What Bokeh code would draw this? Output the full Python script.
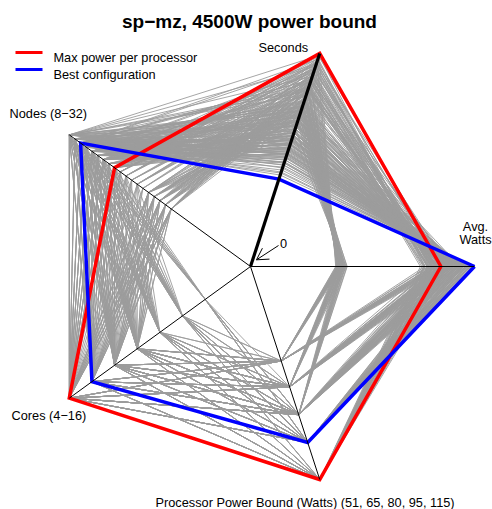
import math
from bokeh.plotting import figure
from bokeh.models import Range1d, Label
from bokeh.embed import file_html
from bokeh.resources import INLINE

# ---------------- data ----------------
# axes order of the radar: Avg. Watts (0 deg), Seconds (72), Nodes (144), Cores (216), Power bound (288)
axis_labels = ["Avg.\nWatts", "Seconds", "Nodes (8\u221232)", "Cores (4\u221216)",
               "Processor Power Bound (Watts) (51, 65, 80, 95, 115)"]
power_levels = [51, 65, 80, 95, 115]

nodes = [
    24, 24, 24, 22, 22, 22, 22, 20, 20, 20, 24, 22, 20, 20, 24, 22, 24, 20, 18, 18,
    30, 30, 30, 30, 28, 28, 28, 28, 28, 26, 26, 26, 26, 26, 24, 24, 24, 24, 24, 30,
    28, 26, 24, 30, 28, 26, 24, 30, 26, 24,
    32, 32, 32, 32, 32, 32, 32, 30, 30, 30, 30, 30, 30, 30, 28, 28, 28, 28, 28, 28, 28,
    26, 26, 26, 26, 26, 26, 26, 24, 24, 16, 16, 16, 16, 14, 14, 14, 18,
    32, 32, 32, 32, 32, 32, 32, 30, 30, 30, 30, 30, 30, 28, 28, 28, 28, 28, 28, 26,
    18, 18, 18, 18, 16, 16, 16, 16, 14, 14, 14, 14,
    32, 32, 32, 32, 32, 30, 30, 30, 30, 30, 18, 18, 18, 18, 16, 16, 16, 16, 14, 14, 14, 14,
    29, 29, 29, 29, 27, 27, 27, 27, 25, 25, 25, 25, 25, 27, 29, 29,
    23, 23, 23, 23, 21, 21, 21, 21, 19, 19, 19, 23,
    31, 31, 31, 31, 31, 29, 29, 29, 29, 29, 27, 27, 27, 27, 25, 25, 25, 15, 15, 15, 17, 17, 17, 17,
    31, 31, 31, 31, 31, 29, 29, 29, 29, 27, 27, 27, 17, 17, 17, 17, 15, 15, 15, 15,
    31, 31, 31, 31, 29, 29, 29, 17, 17, 17, 15, 15, 15, 15, 32, 30,
]
cores = [
    14, 12, 10, 16, 14, 12, 10, 16, 14, 12, 8, 8, 10, 8, 16, 6, 6, 6, 16, 12,
    16, 12, 10, 8, 16, 14, 12, 10, 8, 16, 14, 12, 10, 8, 16, 14, 12, 10, 8, 6,
    6, 6, 6, 4, 4, 4, 4, 14, 16, 16,
    16, 14, 12, 10, 8, 6, 4, 16, 14, 12, 10, 8, 6, 4, 16, 14, 12, 10, 8, 6, 4,
    16, 14, 12, 10, 8, 6, 4, 16, 12, 16, 14, 12, 10, 16, 14, 12, 16,
    16, 14, 12, 10, 8, 6, 4, 16, 14, 12, 10, 8, 6, 16, 14, 12, 10, 8, 6, 16,
    16, 14, 12, 10, 16, 14, 12, 10, 16, 14, 12, 10,
    16, 14, 12, 10, 8, 16, 14, 12, 10, 8, 16, 14, 12, 10, 16, 14, 12, 10, 16, 14, 12, 10,
    16, 12, 10, 8, 16, 14, 12, 10, 16, 14, 12, 10, 8, 6, 6, 14,
    16, 14, 12, 10, 16, 14, 12, 10, 16, 14, 12, 8,
    16, 14, 12, 10, 8, 16, 14, 12, 10, 8, 16, 14, 12, 10, 16, 14, 12, 16, 14, 12, 16, 14, 12, 10,
    16, 14, 12, 10, 8, 16, 14, 12, 10, 16, 14, 12, 16, 14, 12, 10, 16, 14, 12, 10,
    16, 14, 12, 10, 16, 14, 12, 16, 14, 12, 16, 14, 12, 10, 6, 6,
]
power = ([115] * 20 + [95] * 30 + [80] * 38 + [65] * 32 + [51] * 22
         + [95] * 16 + [115] * 12 + [80] * 24 + [65] * 20 + [51] * 16)
seconds = [
    205, 198, 201, 196, 189, 193, 184, 181, 178, 186, 207, 199, 174, 191, 209, 202, 195, 188, 176, 183,
    94, 101, 112, 126, 99, 104, 110, 121, 133, 108, 115, 122, 131, 145, 118, 124, 133, 142, 157, 140,
    149, 160, 171, 165, 176, 185, 194, 91, 112, 121,
    98, 103, 111, 122, 137, 155, 178, 104, 109, 117, 129, 144, 162, 186, 111, 117, 125, 137, 152, 170, 193,
    119, 126, 134, 146, 161, 179, 201, 128, 144, 152, 158, 166, 177, 169, 175, 183, 146,
    112, 118, 127, 139, 155, 175, 199, 120, 126, 135, 148, 165, 186, 128, 135, 145, 158, 176, 196, 137,
    131, 138, 146, 158, 143, 150, 160, 172, 157, 165, 176, 189,
    142, 149, 158, 171, 189, 151, 159, 169, 183, 202, 155, 162, 171, 183, 168, 176, 186, 199, 183, 192, 203, 210,
    96, 106, 117, 130, 103, 109, 116, 126, 113, 119, 127, 137, 151, 155, 146, 93,
    203, 197, 192, 187, 190, 185, 180, 177, 179, 184, 190, 204,
    101, 106, 114, 125, 141, 108, 113, 121, 133, 148, 115, 122, 130, 141, 123, 130, 139, 160, 166, 174, 149, 154, 162, 171,
    116, 122, 131, 143, 160, 124, 130, 140, 153, 133, 140, 150, 137, 144, 153, 165, 150, 157, 168, 180,
    146, 154, 163, 177, 156, 164, 175, 161, 169, 178, 175, 184, 195, 205, 210, 206,
]
watts = [
    3760, 3690, 3580, 3650, 3540, 3480, 3390, 3560, 3470, 3420, 3520, 3600, 3720, 3610, 3870, 3940, 3900, 3850, 3700, 3630,
    4430, 4390, 4350, 4300, 4410, 4380, 4320, 4260, 4210, 4360, 4290, 4240, 4170, 4120, 4200, 4150, 4090, 4030, 3980, 4250,
    4180, 4100, 3950, 4180, 4080, 4010, 3930, 4440, 4330, 4240,
    4290, 4240, 4190, 4130, 4060, 3990, 3900, 4210, 4160, 4100, 4040, 3970, 3890, 3800, 4110, 4050, 3990, 3920, 3850, 3770, 3690,
    3990, 3930, 3880, 3810, 3740, 3670, 3600, 3880, 3760, 1920, 1890, 1860, 1830, 1800, 1780, 1760, 1930,
    4140, 4090, 4030, 3960, 3880, 3790, 3700, 4040, 3990, 3930, 3860, 3780, 3690, 3940, 3880, 3820, 3750, 3670, 3580, 3830,
    1910, 1880, 1850, 1810, 1840, 1810, 1790, 1760, 1780, 1760, 1740, 1720,
    3900, 3850, 3790, 3720, 3640, 3800, 3750, 3690, 3620, 3540, 1830, 1800, 1780, 1750, 1790, 1770, 1750, 1730, 1760, 1740, 1720, 1700,
    4420, 4360, 4310, 4250, 4380, 4330, 4280, 4220, 4290, 4230, 4170, 4100, 4050, 4140, 4200, 4450,
    3800, 3720, 3640, 3560, 3700, 3620, 3530, 3450, 3610, 3530, 3460, 3490,
    4250, 4200, 4140, 4090, 4010, 4160, 4100, 4050, 3980, 3910, 4060, 3990, 3940, 3860, 3940, 3870, 3820, 1860, 1840, 1810, 1900, 1880, 1850, 1820,
    4090, 4040, 3980, 3910, 3830, 3990, 3930, 3870, 3800, 3890, 3830, 3770, 1870, 1850, 1820, 1790, 1810, 1790, 1770, 1740,
    3850, 3800, 3740, 3670, 3750, 3700, 3640, 1810, 1790, 1770, 1780, 1750, 1730, 1710, 3560, 3480,
]

# highlighted configurations: nodes, cores, power, seconds, watts
max_power_cfg = [24, 16, 115, 212, 3800]
best_cfg = [30, 14, 95, 87, 4470]

# ---------------- scales ----------------
n_max = 32.0
c_max = 16.0
p_max = float(max(power_levels))
s_max = float(max(seconds + [max_power_cfg[3], best_cfg[3]]))
w_max = float(max(watts + [max_power_cfg[4], best_cfg[4]]))

ANG = {"watts": 0.0, "seconds": 72.0, "nodes": 144.0, "cores": 216.0, "power": 288.0}


def pt(frac, key):
    a = math.radians(ANG[key])
    return frac * math.cos(a), frac * math.sin(a)


def polygon(n, c, pw, s, w):
    keys = ["watts", "seconds", "nodes", "cores", "power"]
    fr = [w / w_max, s / s_max, n / n_max, c / c_max, pw / p_max]
    xs, ys = [], []
    for f, k in zip(fr, keys):
        x, y = pt(f, k)
        xs.append(x)
        ys.append(y)
    xs.append(xs[0])
    ys.append(ys[0])
    return xs, ys


# ---------------- figure ----------------
R = 224.0
W, H = 492, 509
CX, CY = 250.0, 266.0  # centre of the radar inside the canvas (px from left / top)

p = figure(width=W, height=H, output_backend="svg", toolbar_location=None,
           x_range=Range1d(-CX / R, (W - CX) / R), y_range=Range1d(-(H - CY) / R, CY / R),
           x_axis_location=None, y_axis_location=None, min_border=0,
           outline_line_color=None, background_fill_color="white", border_fill_color="white")
p.grid.visible = False


def px(x):
    return (x - CX) / R


def py(y):
    return (CY - y) / R


# gray: all configurations
gx, gy = [], []
for i in range(min(len(nodes), len(cores), len(power), len(seconds), len(watts))):
    xs, ys = polygon(nodes[i], cores[i], power[i], seconds[i], watts[i])
    gx.append(xs)
    gy.append(ys)
p.multi_line(gx, gy, line_color="#9c9c9c", line_width=0.9)

# highlighted
rx, ry = polygon(*max_power_cfg)
bx, by = polygon(*best_cfg)
p.line(rx, ry, line_color="#ff0000", line_width=3.5, line_join="miter")
p.line(bx, by, line_color="#0000ff", line_width=3.5, line_join="miter")

# axes
for k in ["watts", "nodes", "cores", "power"]:
    x1, y1 = pt(1.0, k)
    p.segment([0], [0], [x1], [y1], line_color="black", line_width=1)
x1, y1 = pt(1.0, "seconds")
p.segment([0], [0], [x1], [y1], line_color="black", line_width=3.2)

# "0" arrow
tail = (278.0, 245.0)
tip = (256.0, 259.3)
p.segment([px(tail[0])], [py(tail[1])], [px(tip[0])], [py(tip[1])], line_color="black", line_width=1)
dx, dy = tail[0] - tip[0], tail[1] - tip[1]
L = math.hypot(dx, dy)
ux, uy = dx / L, dy / L
for th in (math.radians(30), math.radians(-30)):
    hx = ux * math.cos(th) - uy * math.sin(th)
    hy = ux * math.sin(th) + uy * math.cos(th)
    ex, ey = tip[0] + 13 * hx, tip[1] + 13 * hy
    p.segment([px(tip[0])], [py(tip[1])], [px(ex)], [py(ey)], line_color="black", line_width=1)

FONT = "Liberation Sans"
FS = "12.75px"


def label(text, x, y, align="left", baseline="alphabetic", size=FS, style="normal"):
    p.add_layout(Label(x=px(x), y=py(y), text=text, text_align=align, text_baseline=baseline,
                       text_font=FONT, text_font_size=size, text_font_style=style,
                       text_color="black"))


label("0", 283, 243, align="center", baseline="middle")
label("sp\u2212mz, 4500W power bound", 249, 20.5, align="center", size="19px", style="bold")

# legend
p.segment([px(15)], [py(52)], [px(42)], [py(52)], line_color="#ff0000", line_width=3)
p.segment([px(15)], [py(69)], [px(42)], [py(69)], line_color="#0000ff", line_width=3)
label("Max power per processor", 53, 56.5)
label("Best configuration", 53, 73.5)

# axis labels
label(axis_labels[1], 258, 47)
label(axis_labels[2], 9, 113)
label("Avg.", 475, 226, align="center")
label("Watts", 475, 239, align="center")
label(axis_labels[3], 11, 415)
label(axis_labels[4], 155, 502)

open("out.html", "w").write(file_html(p, INLINE))
